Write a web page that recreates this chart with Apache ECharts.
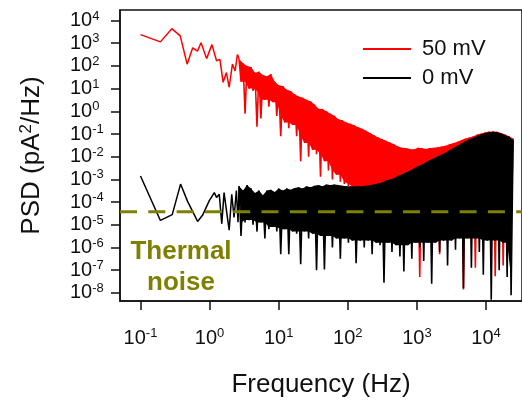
<!DOCTYPE html>
<html>
<head>
<meta charset="utf-8">
<script src="https://cdn.jsdelivr.net/npm/echarts@6/dist/echarts.min.js"></script>
<style>
html,body{margin:0;padding:0;background:#fff;}
#chart{width:522px;height:403px;}
</style>
</head>
<body>
<div id="chart"></div>
<script>
// ---- Data ----
// axis ticks
const xTickValues = [0.1, 1, 10, 100, 1000, 10000];
const xTickExp = ['-1', '0', '1', '2', '3', '4'];
const yTickValues = [1e-8, 1e-7, 1e-6, 1e-5, 1e-4, 1e-3, 1e-2, 1e-1, 1, 10, 100, 1000, 10000];
const yTickExp = ['-8', '-7', '-6', '-5', '-4', '-3', '-2', '-1', '0', '1', '2', '3', '4'];

const seriesNames = ['50 mV', '0 mV'];
const seriesColors = ['#ff0000', '#000000'];
const thermalNoise = 3.7e-5;
const xRange = [0.0505, 33200];
const yRange = [4.36e-9, 2.92e4];

// low-frequency part, 50 mV (red)
const freqRedLow = [0.1, 0.194, 0.284, 0.376, 0.473, 0.57, 0.666, 0.752, 0.905, 1.08, 1.26, 1.41, 1.57, 1.75, 1.92, 2.14, 2.26, 2.34, 2.53, 2.67];
const psdRedLow  = [2.4e3, 1.15e3, 4.4e3, 2.1e3, 1.2e2, 6.3e2, 4.5e2, 1.05e3, 2.1e2, 8.7e2, 1.7e2, 1.95e2, 19, 51, 11.5, 1.2e2, 1.0e2, 60, 3.2e2, 2.0e2];

// low-frequency part, 0 mV (black)
const freqBlackLow = [0.1, 0.194, 0.288, 0.38, 0.48, 0.67, 0.79, 0.99, 1.17, 1.26, 1.38, 1.5, 1.62, 1.78, 1.92, 2.09, 2.26, 2.44, 2.58, 2.67];
const psdBlackLow  = [1.4e-3, 1.55e-5, 2.8e-5, 6.2e-4, 1.07e-4, 1.4e-5, 2.6e-5, 1.15e-4, 2.6e-4, 1.6e-4, 2.2e-4, 1.1e-5, 2.6e-4, 3.0e-5, 5.8e-6, 2.2e-4, 2.1e-5, 3.2e-4, 1.3e-5, 5.0e-4];

// dense (high-frequency) part, sampled frequencies
const freqDense = [
  2.67, 2.85, 3.05, 3.26, 3.48, 3.72, 3.97, 4.25, 4.54, 4.85,
  5.18, 5.53, 5.91, 6.31, 6.75, 7.21, 7.70, 8.23, 8.79, 9.39,
  10.0, 10.7, 11.5, 12.2, 13.1, 14.0, 14.9, 15.9, 17.0, 18.2,
  19.4, 20.8, 22.2, 23.7, 25.3, 27.1, 28.9, 30.9, 33.0, 35.3,
  37.7, 40.3, 43.0, 45.9, 49.1, 52.5, 56.0, 59.9, 64.0, 68.4,
  73.0, 78.0, 83.4, 89.1, 95.1, 102, 109, 116, 124, 132,
  142, 151, 162, 173, 184, 197, 210, 225, 240, 257,
  274, 293, 313, 334, 357, 382, 408, 436, 466, 498,
  532, 568, 607, 648, 692, 740, 791, 845, 903, 964,
  1030, 1100, 1176, 1256, 1342, 1434, 1532, 1637, 1749, 1868,
  1996, 2133, 2279, 2434, 2601, 2779, 2969, 3172, 3389, 3621,
  3868, 4133, 4416, 4718, 5040, 5385, 5754, 6147, 6568, 7017,
  7497, 8010, 8558, 9143, 9768, 10440, 11150, 11910, 12730, 13600,
  14530, 15520, 16590, 17720, 18930, 20230, 21610, 23090, 24670
];

// even index = upper excursion, odd index = lower excursion
const psdRedDense = [
  2.0e2, 20, 1.3e2, 0.79, 1.0e2, 10, 89, 7.9, 50, 0.21,
  56, 0.48, 40, 3.2, 35, 1.6, 44, 2.5, 20, 0.63,
  14, 0.079, 13, 0.32, 8.9, 0.18, 7.9, 0.25, 5.6, 0.079,
  4.5, 0.0063, 4.0, 0.04, 3.2, 0.01, 2.8, 0.02, 2.0, 0.013,
  1.3, 0.0013, 1.26, 0.0063, 1.0, 0.0025, 0.79, 0.001, 0.63, 0.0016,
  0.45, 7.9e-4, 0.4, 6.3e-4, 0.32, 5.0e-4, 0.28, 4.0e-4, 0.24, 1e-4,
  0.2, 3.2e-5, 0.17, 4.0e-5, 0.14, 2.5e-5, 0.11, 3.2e-5, 0.089, 2.5e-5,
  0.071, 3.2e-5, 0.06, 2.5e-5, 0.05, 3.2e-5, 0.042, 2.5e-5, 0.035, 3.2e-5,
  0.028, 2.5e-5, 0.025, 1e-5, 0.024, 2.5e-5, 0.022, 1.6e-5, 0.021, 1e-5,
  0.025, 5.0e-8, 0.024, 1.6e-5, 0.022, 1e-5, 0.024, 1.6e-5, 0.025, 1e-5,
  0.026, 5.0e-7, 0.028, 1.6e-5, 0.03, 1e-5, 0.035, 1.6e-5, 0.04, 1e-5,
  0.045, 1.6e-5, 0.054, 1.4e-8, 0.063, 1.6e-5, 0.071, 1e-5, 0.079, 1.26e-7,
  0.095, 1.6e-5, 0.105, 1e-5, 0.12, 1.6e-5, 0.13, 1e-5, 0.13, 5.4e-8,
  0.126, 1e-5, 0.11, 1.6e-7, 0.095, 1.6e-5, 0.079, 1e-5, 0.063
];

const psdBlackDense = [
  5.0e-4, 3.2e-6, 3.2e-4, 1.26e-5, 5.6e-4, 1.6e-5, 4.0e-4, 1e-5, 2.5e-4, 5.0e-6,
  3.2e-4, 1.26e-5, 2.0e-4, 2.5e-6, 3.2e-4, 6.3e-6, 3.5e-4, 7.9e-6, 2.8e-4, 5.0e-6,
  4.0e-4, 5.0e-7, 3.2e-4, 6.3e-6, 4.0e-4, 5.0e-7, 3.5e-4, 5.0e-6, 4.2e-4, 4.0e-6,
  4.5e-4, 1.8e-7, 4.0e-4, 5.0e-6, 5.0e-4, 2.5e-6, 4.5e-4, 4.0e-6, 5.2e-4, 1e-7,
  5.6e-4, 3.2e-6, 5.0e-4, 1.07e-7, 6.0e-4, 3.2e-6, 5.6e-4, 1e-6, 6.0e-4, 2.5e-6,
  5.6e-4, 3.2e-7, 5.2e-4, 2.5e-6, 5.0e-4, 1.6e-6, 5.0e-4, 2.0e-6, 4.8e-4, 2.0e-7,
  5.0e-4, 2.0e-6, 5.0e-4, 1e-6, 5.2e-4, 2.0e-6, 5.6e-4, 5.0e-7, 6.0e-4, 1.6e-6,
  6.6e-4, 1.26e-6, 7.2e-4, 2.8e-8, 8.9e-4, 1.6e-6, 1e-3, 6.3e-7, 1.12e-3, 1.26e-6,
  1.45e-3, 4.0e-7, 1.66e-3, 8.7e-8, 2.0e-3, 1.26e-6, 2.4e-3, 3.2e-7, 3.0e-3, 1.6e-6,
  3.8e-3, 1e-6, 4.5e-3, 2.5e-7, 5.6e-3, 1.6e-6, 7.1e-3, 2.5e-8, 8.3e-3, 1.6e-6,
  0.0105, 6.3e-7, 0.0126, 2.0e-6, 0.015, 1.6e-7, 0.019, 2.0e-6, 0.024, 7.9e-7,
  0.03, 2.5e-6, 0.038, 1.6e-8, 0.048, 2.5e-6, 0.058, 1.26e-7, 0.068, 2.5e-6,
  0.083, 6.3e-7, 0.095, 6.3e-8, 0.11, 2.0e-6, 0.12, 5.0e-9, 0.126, 2.0e-6,
  0.12, 1e-7, 0.105, 1.6e-6, 0.089, 5.0e-8, 0.076, 7.9e-9, 0.056
];

// ---- build ----
function pairs(fx, fy) { return fx.map((f, i) => [f, fy[i]]); }

function expLabel(v, ticks, exps) {
  const lv = Math.log10(v);
  for (let i = 0; i < ticks.length; i++) {
    if (Math.abs(Math.log10(ticks[i]) - lv) < 0.01) return '{b|10}{s|' + exps[i] + '}';
  }
  return '';
}

const FONT = '"Liberation Sans", Arial, sans-serif';
const tickRich = {
  b: { fontSize: 20, lineHeight: 22, color: '#111', fontFamily: FONT },
  s: { fontSize: 13, lineHeight: 13, color: '#111', fontFamily: FONT, verticalAlign: 'top' }
};

function lineSeries(name, data, color, width, z) {
  return {
    name: name, type: 'line', data: data, symbol: 'none', showSymbol: false, z: z,
    lineStyle: { color: color, width: width, join: 'bevel' }, itemStyle: { color: color }
  };
}

// Solid body of the dense noise trace: polygon through the upper excursions and
// the shallowest of neighbouring lower excursions (deep spikes stay as lines).
function bandSeries(name, freqs, vals, color, z) {
  return {
    name: name, type: 'custom', coordinateSystem: 'cartesian2d', silent: true, clip: true, z: z,
    itemStyle: { color: color },
    data: [[freqs[0], vals[0]]],
    renderItem: function (params, api) {
      const top = [], bottom = [];
      for (let i = 0; i < freqs.length; i++) {
        if (i % 2 === 0) {
          top.push(api.coord([freqs[i], vals[i]]));
        } else {
          let v = vals[i];
          if (i - 2 >= 1) v = Math.max(v, vals[i - 2]);
          if (i + 2 < freqs.length) v = Math.max(v, vals[i + 2]);
          bottom.push(api.coord([freqs[i], v]));
        }
      }
      const pts = top.concat(bottom.reverse());
      return { type: 'polygon', shape: { points: pts }, style: { fill: color, stroke: null } };
    }
  };
}

const chart = echarts.init(document.getElementById('chart'), null, { renderer: 'canvas' });
chart.setOption({
  animation: false,
  color: seriesColors,
  textStyle: { fontFamily: FONT },
  grid: { left: 120, top: 10, right: -3, bottom: 98, show: true, borderColor: '#111', borderWidth: 1.5, backgroundColor: 'transparent' },
  legend: {
    data: [
      { name: seriesNames[0], icon: 'rect', itemStyle: { color: seriesColors[0] } },
      { name: seriesNames[1], icon: 'rect', itemStyle: { color: seriesColors[1] } }
    ],
    orient: 'vertical', left: 363, top: 38, padding: 0,
    itemWidth: 48, itemHeight: 2, itemGap: 7,
    textStyle: { fontSize: 22, lineHeight: 22, color: '#111', padding: [0, 0, 0, 6] }
  },
  xAxis: {
    type: 'log', logBase: 10, min: xRange[0], max: xRange[1],
    name: 'Frequency (Hz)', nameLocation: 'middle', nameGap: 71,
    nameTextStyle: { fontSize: 26, color: '#111' },
    axisLine: { show: true, lineStyle: { color: '#111', width: 1.5 } },
    axisTick: { show: true, customValues: xTickValues, length: 9, lineStyle: { color: '#111', width: 1.5 } },
    minorTick: { show: false },
    splitLine: { show: false },
    axisLabel: {
      customValues: xTickValues, margin: 26,
      formatter: v => expLabel(v, xTickValues, xTickExp),
      rich: tickRich
    }
  },
  yAxis: {
    type: 'log', logBase: 10, min: yRange[0], max: yRange[1],
    name: '{a|PSD (pA}{s|2}{a|/Hz)}', nameLocation: 'middle', nameGap: 74,
    nameTextStyle: {
      rich: {
        a: { fontSize: 26, lineHeight: 28, color: '#111', fontFamily: FONT },
        s: { fontSize: 17, lineHeight: 17, color: '#111', fontFamily: FONT, verticalAlign: 'top' }
      }
    },
    axisLine: { show: true, lineStyle: { color: '#111', width: 1.5 } },
    axisTick: { show: true, customValues: yTickValues, length: 9, lineStyle: { color: '#111', width: 1.5 } },
    minorTick: { show: false },
    splitLine: { show: false },
    axisLabel: {
      customValues: yTickValues, margin: 50, align: 'left',
      formatter: v => expLabel(v, yTickValues, yTickExp),
      rich: tickRich
    }
  },
  graphic: [{
    type: 'text', x: 181, y: 236.5, z: 20,
    style: {
      text: 'Thermal\nnoise', align: 'center', verticalAlign: 'top',
      fontSize: 26, fontWeight: 'bold', fontFamily: FONT, lineHeight: 31, fill: '#808000'
    }
  }],
  series: [
    lineSeries(seriesNames[0], pairs(freqRedLow, psdRedLow), seriesColors[0], 1.5, 2),
    bandSeries(seriesNames[0], freqDense, psdRedDense, seriesColors[0], 2),
    lineSeries(seriesNames[0], pairs(freqDense, psdRedDense), seriesColors[0], 1.6, 3),
    bandSeries(seriesNames[1], freqDense, psdBlackDense, seriesColors[1], 4),
    lineSeries(seriesNames[1], pairs(freqBlackLow, psdBlackLow), seriesColors[1], 1.5, 5),
    lineSeries(seriesNames[1], pairs(freqDense, psdBlackDense), seriesColors[1], 1.6, 5),
    {
      name: 'Thermal noise', type: 'line', symbol: 'none', showSymbol: false, z: 6,
      data: [[xRange[0], thermalNoise], [xRange[1], thermalNoise]],
      lineStyle: { color: '#808000', width: 3, type: [17, 11.3], cap: 'butt' },
      itemStyle: { color: '#808000' }
    }
  ]
});
</script>
</body>
</html>
